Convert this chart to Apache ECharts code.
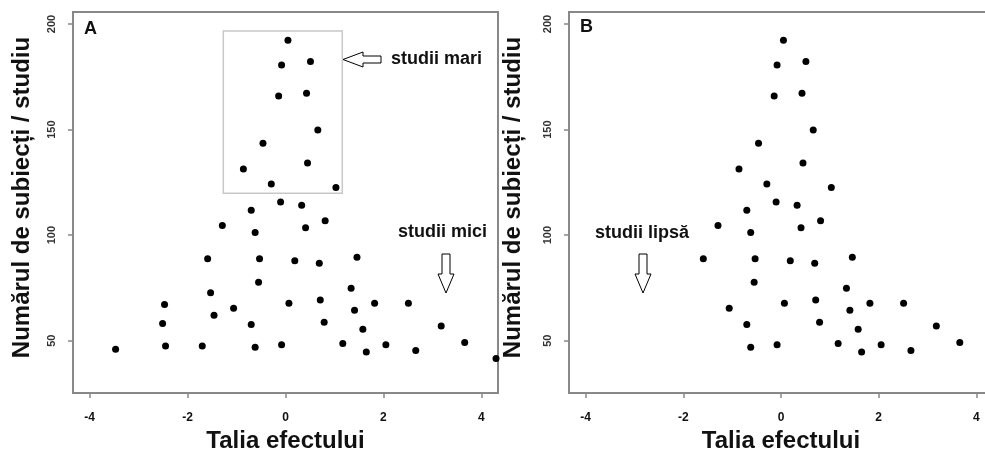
<!DOCTYPE html>
<html>
<head>
<meta charset="utf-8">
<script src="https://cdn.jsdelivr.net/npm/echarts@6/dist/echarts.min.js"></script>
<style>
html,body{margin:0;padding:0;background:#fff;}
#chart{width:985px;height:453px;}
</style>
</head>
<body>
<div id="chart"></div>
<script>
// Panel A: all studies (effect size, number of subjects per study)
var effectA = [0.05,-0.08,0.51,-0.14,0.43,0.66,-0.46,-0.86,0.45,-0.29,1.03,-0.10,0.33,-0.70,-1.29,0.81,0.41,-0.62,-1.59,-0.53,0.19,0.69,1.46,-0.55,-1.53,1.34,0.07,-2.47,-1.06,0.71,1.41,1.82,2.51,-1.46,-2.51,-0.70,0.79,1.58,3.18,-2.45,-1.70,-0.62,-0.08,-3.47,1.17,1.65,2.05,2.66,3.66,4.30];
var sizeA   = [192.3,180.6,182.2,165.9,167.2,149.8,143.5,131.3,134.2,124.2,122.5,115.7,114.1,111.8,104.5,106.8,103.5,101.2,88.8,88.8,87.8,86.7,89.5,77.7,72.7,74.8,67.7,67.1,65.3,69.3,64.4,67.7,67.7,62.0,58.1,57.6,58.7,55.4,57.0,47.5,47.5,46.9,48.0,45.9,48.6,44.6,48.1,45.3,49.1,41.5];
// Panel B: small studies with negative effects missing
var effectB = [0.05,-0.08,0.51,-0.14,0.43,0.66,-0.46,-0.86,0.45,-0.29,1.03,-0.10,0.33,-0.70,-1.29,0.81,0.41,-0.62,-1.59,-0.53,0.19,0.69,1.46,-0.55,1.34,0.07,-1.06,0.71,1.41,1.82,2.51,-0.70,0.79,1.58,3.18,-0.62,-0.08,1.17,1.65,2.05,2.66,3.66,4.30];
var sizeB   = [192.3,180.6,182.2,165.9,167.2,149.8,143.5,131.3,134.2,124.2,122.5,115.7,114.1,111.8,104.5,106.8,103.5,101.2,88.8,88.8,87.8,86.7,89.5,77.7,74.8,67.7,65.3,69.3,64.4,67.7,67.7,57.6,58.7,55.4,57.0,46.9,48.0,48.6,44.6,48.1,45.3,49.1,41.5];
// Tick labels
var xTicks = [-4,-2,0,2,4];
var yTicks = [50,100,150,200];
// Box around large studies (panel A)
var bigBoxX = [-1.27, 1.16];
var bigBoxY = [119.8, 196.7];

var FONT = '"Liberation Sans", Arial, sans-serif';
function pairs(xs, ys){ return xs.map(function(x,i){ return [x, ys[i]]; }); }

function xAxis(idx){
  return {
    type:'value', gridIndex:idx, min:-4.34, max:4.34, position:'bottom',
    name:'Talia efectului', nameLocation:'middle', nameGap:36,
    nameTextStyle:{fontFamily:FONT, fontWeight:'bold', fontSize:24, color:'#111'},
    axisLine:{show:false, onZero:false},
    axisTick:{show:true, length:5, customValues:xTicks, lineStyle:{color:'#888', width:1.5}},
    axisLabel:{customValues:xTicks, margin:19, fontFamily:FONT, fontWeight:'bold', fontSize:12, color:'#111'},
    splitLine:{show:false}
  };
}
function yAxis(idx, gap){
  return {
    type:'value', gridIndex:idx, min:25.2, max:205.7, position:'left',
    name:'Numărul de subiecți / studiu', nameLocation:'middle', nameGap:gap,
    nameTextStyle:{fontFamily:FONT, fontWeight:'bold', fontSize:24, color:'#111', padding:[0,0,0,10]},
    axisLine:{show:false, onZero:false},
    axisTick:{show:true, length:5, customValues:yTicks, lineStyle:{color:'#888', width:1.5}},
    axisLabel:{customValues:yTicks, rotate:90, margin:16, fontFamily:FONT, fontWeight:'bold', fontSize:11, color:'#333'},
    splitLine:{show:false}
  };
}

var chart = echarts.init(document.getElementById('chart'), null, {renderer:'canvas'});

function downArrow(cx, top){
  return {type:'polygon', shape:{points:[[cx-4,top],[cx+4,top],[cx+4,top+20],[cx+8,top+20],[cx,top+39],[cx-8,top+20],[cx-4,top+20]]},
    style:{fill:'#fff', stroke:'#000', lineWidth:1}, z:100};
}
function leftArrow(tip, cy){
  return {type:'polygon', shape:{points:[[tip,cy],[tip+20,cy-7.5],[tip+20,cy-3.5],[tip+38,cy-3.5],[tip+38,cy+3.5],[tip+20,cy+3.5],[tip+20,cy+7.5]]},
    style:{fill:'#fff', stroke:'#000', lineWidth:1}, z:100};
}
function label(txt, x, y, size){
  return {type:'text', left:x, top:y, z:100, style:{text:txt, font:'bold '+size+'px '+FONT, fill:'#111'}};
}

chart.setOption({
  animation:false,
  backgroundColor:'#fff',
  grid:[
    {left:73, top:12, width:425, height:381, show:true, borderColor:'#888', borderWidth:2, backgroundColor:'transparent', outerBoundsMode:'none', containLabel:false},
    {left:569, top:12, width:424, height:381, show:true, borderColor:'#888', borderWidth:2, backgroundColor:'transparent', outerBoundsMode:'none', containLabel:false}
  ],
  xAxis:[xAxis(0), xAxis(1)],
  yAxis:[yAxis(0, 39), yAxis(1, 44)],
  series:[
    {type:'scatter', xAxisIndex:0, yAxisIndex:0, data:pairs(effectA, sizeA), symbolSize:7,
     itemStyle:{color:'#000', opacity:1},
     markArea:{silent:true, itemStyle:{color:'rgba(0,0,0,0)', borderColor:'#c8c8c8', borderWidth:1.5},
       data:[[{coord:[bigBoxX[0], bigBoxY[1]]},{coord:[bigBoxX[1], bigBoxY[0]]}]]}},
    {type:'scatter', xAxisIndex:1, yAxisIndex:1, data:pairs(effectB, sizeB), symbolSize:7,
     itemStyle:{color:'#000', opacity:1}}
  ],
  graphic:[
    label('A', 84, 20, 18),
    label('B', 580, 18, 18),
    leftArrow(343, 59.5),
    label('studii mari', 391, 50, 18),
    label('studii mici', 398, 223, 18),
    downArrow(446, 254),
    label('studii lipsă', 595, 224, 18),
    downArrow(643, 254)
  ]
});
</script>
</body>
</html>
